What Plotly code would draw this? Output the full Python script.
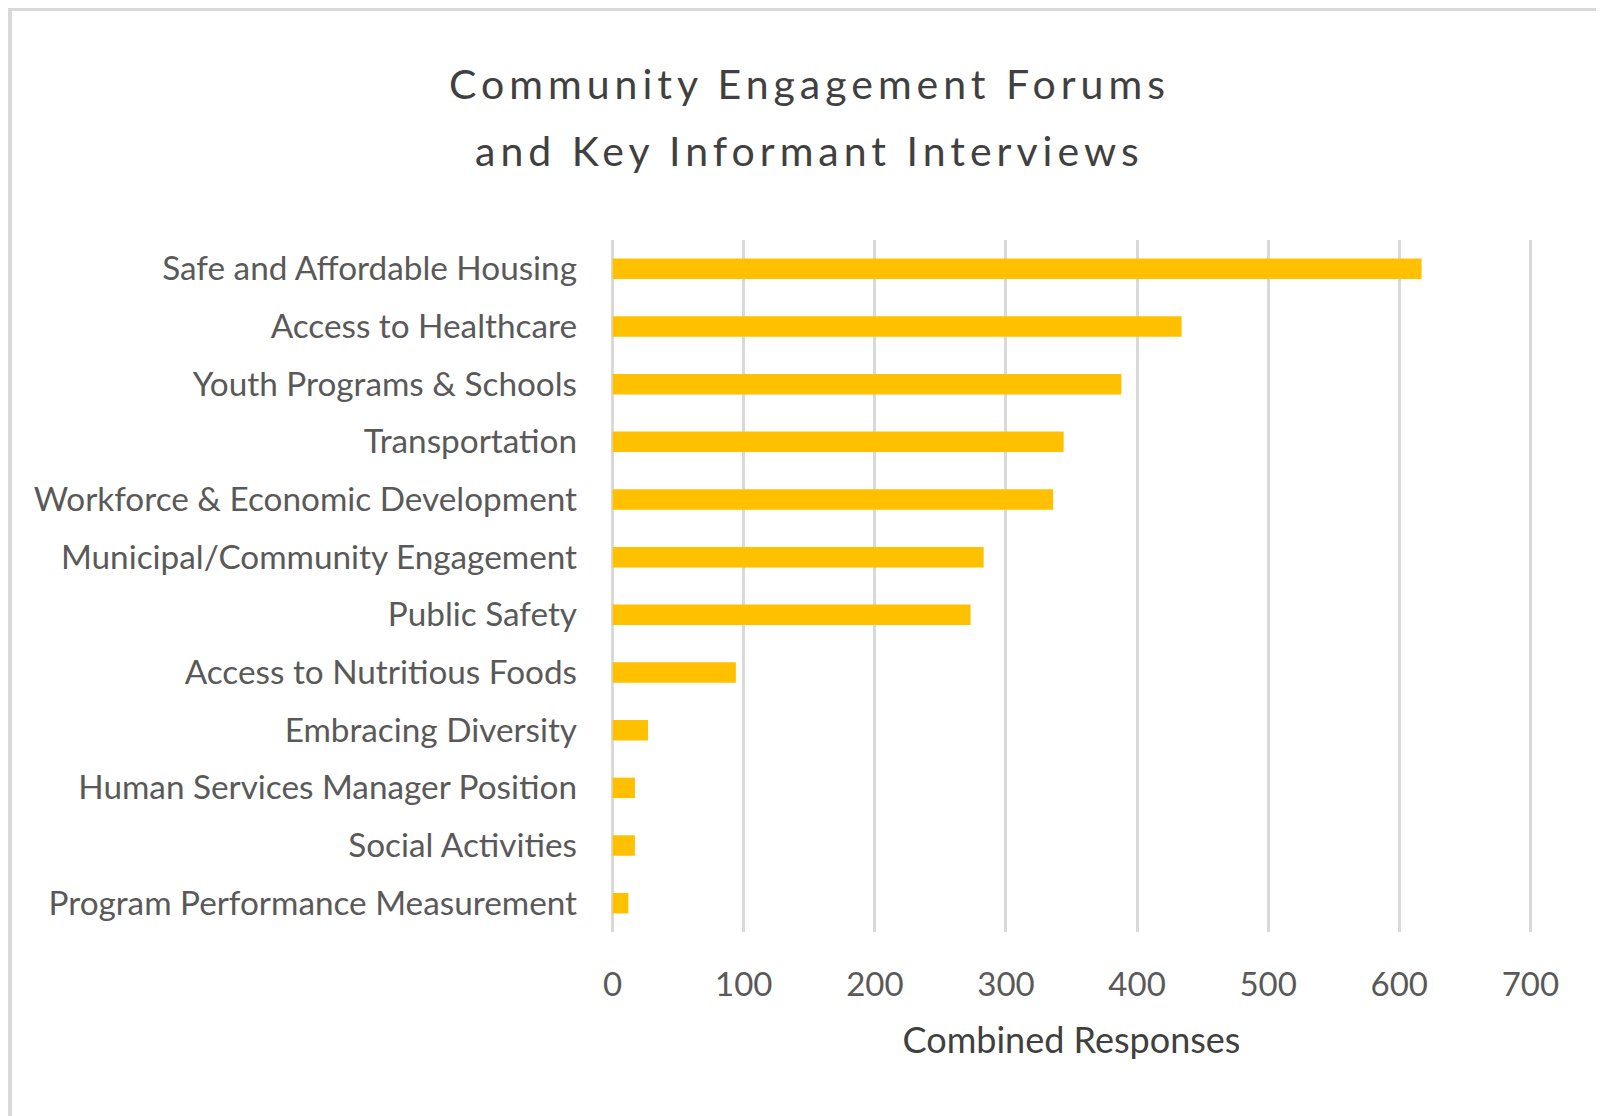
import plotly.graph_objects as go

categories = [
    "Safe and Affordable Housing",
    "Access to Healthcare",
    "Youth Programs & Schools",
    "Transportation",
    "Workforce & Economic Development",
    "Municipal/Community Engagement",
    "Public Safety",
    "Access to Nutritious Foods",
    "Embracing Diversity",
    "Human Services Manager Position",
    "Social Activities",
    "Program Performance Measurement",
]
values = [617, 434, 388, 344, 336, 283, 273, 94, 27, 17, 17, 12]
x_ticks = [0, 100, 200, 300, 400, 500, 600, 700]
title_lines = ["Community Engagement Forums", "and Key Informant Interviews"]

# page body has an 8px default margin; work in page pixels and shift
OFF = 8
W, H = 1604 - OFF, 1116 - OFF
L, R, T, B = 610 - OFF, 1533 - OFF, 240 - OFF, 932 - OFF
XMIN, XMAX = -2, 702


def px_x(p):
    return (p - OFF - L) / (R - L)


def px_y(p):
    return (B - (p - OFF)) / (B - T)


FONT = "Lato"

fig = go.Figure(
    go.Bar(
        x=values,
        y=categories,
        orientation="h",
        marker=dict(color="#FFC000", line=dict(width=0)),
        hoverinfo="x+y",
    )
)

fig.update_layout(
    width=W,
    height=H,
    margin=dict(l=L, r=W - R, t=T, b=H - B),
    paper_bgcolor="white",
    plot_bgcolor="white",
    bargap=0.645,
    showlegend=False,
    font=dict(family=FONT, color="#595959"),
    xaxis=dict(
        range=[XMIN, XMAX],
        tickvals=x_ticks,
        ticktext=[str(v) for v in x_ticks],
        showgrid=True,
        gridcolor="#d9d9d9",
        gridwidth=3,
        zeroline=True,
        zerolinecolor="#d9d9d9",
        zerolinewidth=3,
        showline=False,
        ticks="",
        ticklabelstandoff=30,
        tickfont=dict(family=FONT, size=33, color="#595959"),
        title=dict(
            text="Combined Responses",
            font=dict(family=FONT, size=36, color="#404040"),
            standoff=25,
        ),
        fixedrange=True,
    ),
    yaxis=dict(
        categoryorder="array",
        categoryarray=categories[::-1],
        showgrid=False,
        zeroline=False,
        showline=False,
        ticks="",
        ticklabelstandoff=32,
        tickfont=dict(family=FONT, size=33.3, color="#595959"),
        fixedrange=True,
    ),
    annotations=[
        dict(
            text="<span style='letter-spacing:5px'>%s</span>" % title_lines[0],
            x=px_x(809), y=px_y(84), xref="paper", yref="paper",
            xanchor="center", yanchor="middle", showarrow=False,
            font=dict(family=FONT, size=41, color="#404040"),
        ),
        dict(
            text="<span style='letter-spacing:5px'>%s</span>" % title_lines[1],
            x=px_x(809), y=px_y(150), xref="paper", yref="paper",
            xanchor="center", yanchor="middle", showarrow=False,
            font=dict(family=FONT, size=41, color="#404040"),
        ),
    ],
    shapes=[
        dict(
            type="rect", xref="paper", yref="paper",
            x0=px_x(10), x1=px_x(1650), y0=px_y(1160), y1=px_y(9),
            line=dict(color="#d9d9d9", width=4),
            fillcolor="rgba(0,0,0,0)", layer="below",
        )
    ],
)

fig.write_html("out.html")
